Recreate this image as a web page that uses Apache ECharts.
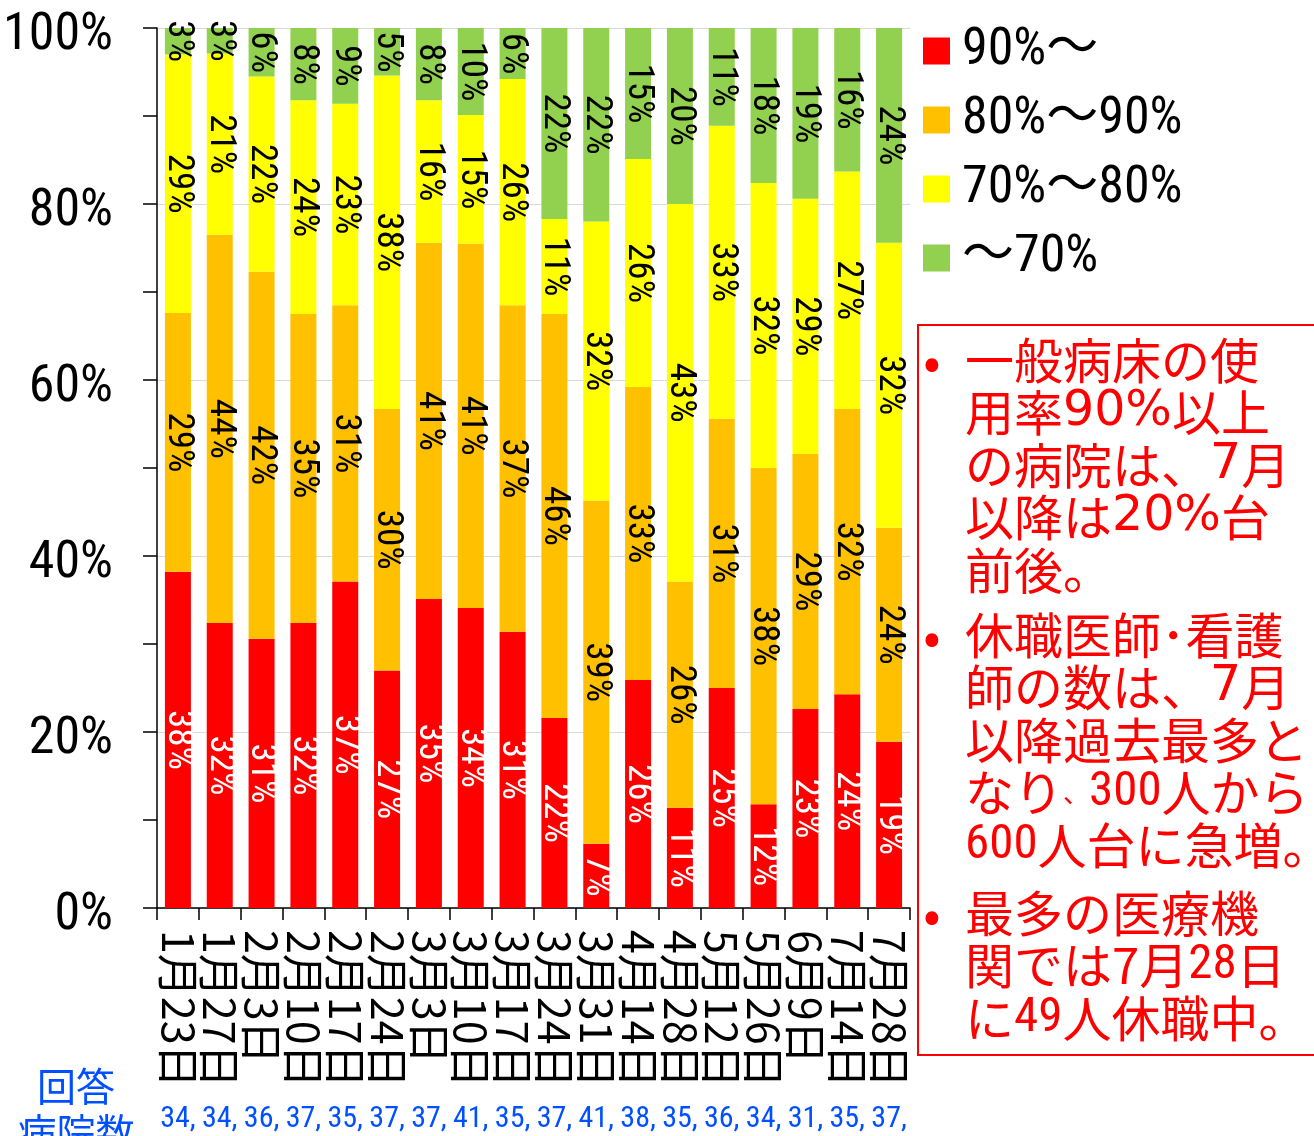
<!DOCTYPE html>
<html>
<head>
<meta charset="utf-8">
<script src="https://cdn.jsdelivr.net/npm/echarts@6/dist/echarts.min.js"></script>
<style>
html,body{margin:0;padding:0;background:#fff;}
#chart{width:1314px;height:1136px;}
</style>
</head>
<body>
<div id="chart"></div>
<script>
const categories = ['1月23日','1月27日','2月3日','2月10日','2月17日','2月24日','3月3日','3月10日','3月17日','3月24日','3月31日','4月14日','4月28日','5月12日','5月26日','6月9日','7月14日','7月28日'];
const hospitalCounts = [34,34,36,37,35,37,37,41,35,37,41,38,35,36,34,31,35,37];
const seriesNames = ['90%〜','80%〜90%','70%〜80%','〜70%'];
const over90   = [38.2,32.4,30.6,32.4,37.1,27.0,35.1,34.1,31.4,21.6, 7.3,25.9,11.4,25.0,11.8,22.6,24.3,18.9];
const from80   = [29.4,44.1,41.7,35.1,31.4,29.7,40.5,41.4,37.1,45.9,39.0,33.3,25.7,30.6,38.2,29.0,32.4,24.3];
const from70   = [29.4,20.6,22.2,24.3,22.9,37.9,16.2,14.6,25.7,10.8,31.7,25.9,42.9,33.3,32.4,29.0,27.0,32.4];
const under70  = [ 3.0, 2.9, 5.5, 8.2, 8.6, 5.4, 8.2, 9.9, 5.8,21.7,22.0,14.9,20.0,11.1,17.6,19.4,16.3,24.4];
const yTicks = [0,20,40,60,80,100];
const colors = ['#FF0000','#FFC000','#FFFF00','#92D050'];
const labelColors = ['#FFFFFF','#000000','#000000','#000000'];

const NARROW = "'Roboto Condensed', 'Noto Sans CJK JP', sans-serif";
const JP = "'Noto Sans CJK JP', sans-serif";
const RED = '#FF0000';
const BLUE = '#0050FF';

const chart = echarts.init(document.getElementById('chart'));
const dataSets = [over90, from80, from70, under70];

const series = dataSets.map((d, i) => ({
  name: seriesNames[i],
  type: 'bar',
  stack: 'total',
  barWidth: 26,
  data: d,
  itemStyle: { color: colors[i] },
  label: {
    show: true,
    position: 'inside',
    rotate: -90,
    formatter: p => Math.round(p.value) + '%',
    color: labelColors[i],
    fontFamily: NARROW,
    fontSize: 37,
    textBorderWidth: 0
  },
  emphasis: { disabled: true }
}));

const RICH = {
  w: { fontFamily: "'DejaVu Sans', sans-serif", fontSize: 49, lineHeight: 52.5, fill: RED, color: RED },
  n: { fontFamily: "'Roboto Condensed', sans-serif", fontSize: 49, lineHeight: 52.5, fill: RED, color: RED },
  c: { fontFamily: JP, fontSize: 26, lineHeight: 52.5, fill: RED, color: RED }
};
const para = (text, top) => ({
  type: 'text',
  x: 965,
  y: top,
  silent: true,
  style: {
    text: text,
    fill: RED,
    fontFamily: JP,
    fontSize: 49,
    lineHeight: 52.5,
    align: 'left',
    verticalAlign: 'top',
    rich: RICH
  }
});
const bullet = (top) => ({
  type: 'text', x: 932, y: top, silent: true,
  style: { text: '•', fill: RED, fontFamily: JP, fontSize: 51, lineHeight: 52.5, align: 'center', verticalAlign: 'top' }
});

chart.setOption({
  animation: false,
  backgroundColor: '#fff',
  grid: { left: 157, right: 404, top: 28, bottom: 228, containLabel: false, outerBoundsMode: 'none' },
  legend: {
    orient: 'vertical',
    left: 918,
    top: 20,
    itemWidth: 27,
    itemHeight: 27,
    itemGap: 17,
    icon: 'rect',
    selectedMode: false,
    data: seriesNames,
    textStyle: { fontFamily: NARROW, fontSize: 52, lineHeight: 50, color: '#000', padding: [0,0,0,7] }
  },
  xAxis: [
    {
      type: 'category',
      data: categories,
      position: 'bottom',
      axisLine: { show: true, lineStyle: { color: '#000', width: 1.5 } },
      axisTick: { show: true, length: 12, lineStyle: { color: '#000', width: 1.5 } },
      axisLabel: { interval: 0, rotate: -90, margin: 22, fontFamily: JP, fontSize: 43, color: '#000' },
      splitLine: { show: false }
    },
    {
      type: 'category',
      data: hospitalCounts.map(n => n + ','),
      position: 'bottom',
      axisLine: { show: false },
      axisTick: { show: false },
      axisLabel: { interval: 0, margin: 196, fontFamily: NARROW, fontSize: 30, color: BLUE },
      splitLine: { show: false }
    }
  ],
  yAxis: {
    type: 'value',
    min: yTicks[0],
    max: yTicks[yTicks.length - 1],
    interval: 20,
    axisLine: { show: true, lineStyle: { color: '#000', width: 1.5 } },
    axisTick: { show: true, length: 14, lineStyle: { color: '#000', width: 1.5 } },
    minorTick: { show: true, splitNumber: 2, length: 14, lineStyle: { color: '#000', width: 1.5 } },
    splitLine: { show: true, lineStyle: { color: '#D9D9D9', width: 1 } },
    minorSplitLine: { show: false },
    axisLabel: { formatter: '{value}%', margin: 44, fontFamily: NARROW, fontSize: 52, color: '#000', verticalAlign: 'top', lineHeight: 16 }
  },
  series: series,
  graphic: [
    {
      type: 'text', x: 76, y: 1063, silent: true,
      style: { text: '回答\n病院数', fill: BLUE, fontFamily: JP, fontSize: 39, lineHeight: 46, align: 'center', verticalAlign: 'top' }
    },
    {
      type: 'rect', x: 918, y: 325, silent: true,
      shape: { x: 0, y: 0, width: 420, height: 730 },
      style: { fill: 'none', stroke: RED, lineWidth: 2 }
    },
    bullet(334),
    para('一般病床の使\n用率{w|90%}以上\nの病院は、{w|7}月\n以降は{w|20%}台\n前後。', 334),
    bullet(609),
    para('休職医師･看護\n師の数は、{w|7}月\n以降過去最多と\nなり{c|、}{n|300}人から\n{n|600}人台に急増。', 609),
    bullet(887),
    para('最多の医療機\n関では7月{n|28}日\nに{n|49}人休職中。', 887)
  ]
});
</script>
</body>
</html>
